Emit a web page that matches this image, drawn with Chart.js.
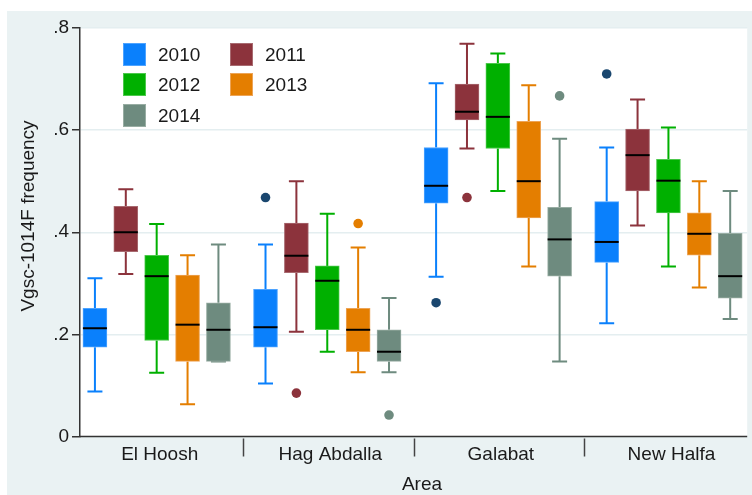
<!DOCTYPE html>
<html><head><meta charset="utf-8">
<script src="https://cdn.jsdelivr.net/npm/chart.js@4.4.1/dist/chart.umd.min.js"></script>
<style>html,body{margin:0;padding:0;background:#fff}canvas{display:block}</style>
</head><body>
<canvas id="c" width="752" height="495"></canvas>
<script>
// ---- data ----
const areas = ['El Hoosh', 'Hag Abdalla', 'Galabat', 'New Halfa'];
const years = ['2010', '2011', '2012', '2013', '2014'];
// per area: [lower whisker, q1, median, q3, upper whisker]
const box2010 = [[0.088,0.175,0.212,0.251,0.310],[0.104,0.175,0.214,0.288,0.376],[0.313,0.457,0.491,0.566,0.692],[0.222,0.341,0.381,0.460,0.566]];
const box2011 = [[0.318,0.362,0.400,0.451,0.484],[0.205,0.321,0.354,0.418,0.500],[0.564,0.620,0.636,0.690,0.769],[0.413,0.481,0.551,0.602,0.660]];
const box2012 = [[0.125,0.188,0.314,0.355,0.416],[0.166,0.209,0.305,0.334,0.436],[0.481,0.564,0.626,0.731,0.750],[0.333,0.438,0.501,0.543,0.605]];
const box2013 = [[0.063,0.147,0.219,0.316,0.355],[0.126,0.166,0.209,0.251,0.370],[0.333,0.428,0.500,0.617,0.688],[0.292,0.355,0.397,0.438,0.500]];
const box2014 = [[0.147,0.147,0.209,0.262,0.376],[0.126,0.147,0.166,0.209,0.271],[0.147,0.314,0.386,0.449,0.583],[0.230,0.271,0.314,0.398,0.481]];
// outside values per area
const out2010 = [[], [0.468], [0.262], [0.710]];
const out2011 = [[], [0.085], [0.468], []];
const out2012 = [[], [], [], []];
const out2013 = [[], [0.417], [], []];
const out2014 = [[], [0.042], [0.667], []];
const yTicks = [0, 0.2, 0.4, 0.6, 0.8];
const yTickLabels = ['0', '.2', '.4', '.6', '.8'];

// ---- styles ----
const boxColors = ['#0a80fc', '#8c333c', '#00b000', '#e47e00', '#6e8b7f'];
const edgeColors = ['#4da3ff', '#a86a70', '#4cc84c', '#eda456', '#98ada3'];
const outColors = ['#1a476f', '#8c333c', '#00b000', '#e47e00', '#6e8b7f'];
const FONT = "'Liberation Sans', Arial, sans-serif";
const SPACING = 0.181;

const boxes = [box2010, box2011, box2012, box2013, box2014];
const outs = [out2010, out2011, out2012, out2013, out2014];
const posOf = (i, j) => i + (j - 2) * SPACING;

const datasets = [];
boxes.forEach((b, j) => {
  datasets.push({
    type: 'bar', label: years[j],
    data: b.map((s, i) => ({ x: posOf(i, j), y: [s[1], s[3]] })),
    backgroundColor: boxColors[j], borderColor: edgeColors[j], borderWidth: 1,
    borderSkipped: false, barThickness: 24, grouped: false, order: 2
  });
});
outs.forEach((o, j) => {
  const pts = [];
  o.forEach((arr, i) => arr.forEach(v => pts.push({ x: posOf(i, j), y: v })));
  datasets.push({
    type: 'scatter', label: 'out' + years[j], data: pts,
    pointRadius: 4.8, pointHoverRadius: 4.8, pointBackgroundColor: outColors[j],
    pointBorderWidth: 0, order: 1
  });
});

const boxPlugin = {
  id: 'boxPlugin',
  beforeDraw(chart) {
    const { ctx, chartArea: a } = chart;
    ctx.save();
    ctx.fillStyle = '#ffffff';
    ctx.fillRect(0, 0, chart.width, chart.height);
    ctx.fillStyle = '#eaf2f3';
    ctx.fillRect(7, 11, chart.width - 7, chart.height - 11);
    ctx.fillStyle = '#ffffff';
    ctx.fillRect(a.left, a.top, a.right - a.left, a.bottom - a.top);
    ctx.restore();
  },
  beforeDatasetsDraw(chart) {
    const { ctx, scales: { x, y } } = chart;
    ctx.save();
    ctx.lineWidth = 2;
    boxes.forEach((b, j) => {
      ctx.strokeStyle = boxColors[j];
      b.forEach((s, i) => {
        const xp = x.getPixelForValue(posOf(i, j));
        ctx.beginPath();
        ctx.moveTo(xp, y.getPixelForValue(s[0]));
        ctx.lineTo(xp, y.getPixelForValue(s[1]));
        ctx.moveTo(xp, y.getPixelForValue(s[3]));
        ctx.lineTo(xp, y.getPixelForValue(s[4]));
        ctx.moveTo(xp - 7.5, y.getPixelForValue(s[0]));
        ctx.lineTo(xp + 7.5, y.getPixelForValue(s[0]));
        ctx.moveTo(xp - 7.5, y.getPixelForValue(s[4]));
        ctx.lineTo(xp + 7.5, y.getPixelForValue(s[4]));
        ctx.stroke();
      });
    });
    ctx.restore();
  },
  afterDatasetsDraw(chart) {
    const { ctx, scales: { x, y } } = chart;
    ctx.save();
    ctx.lineWidth = 2;
    ctx.strokeStyle = '#000000';
    boxes.forEach((b, j) => {
      b.forEach((s, i) => {
        const xp = x.getPixelForValue(posOf(i, j));
        const yp = y.getPixelForValue(s[2]);
        ctx.beginPath();
        ctx.moveTo(xp - 12, yp);
        ctx.lineTo(xp + 12, yp);
        ctx.stroke();
      });
    });
    ctx.restore();
  },
  afterDraw(chart) {
    const { ctx, chartArea: a, scales: { x } } = chart;
    ctx.save();
    // x baseline
    ctx.strokeStyle = '#333333';
    ctx.lineWidth = 1.5;
    ctx.beginPath();
    ctx.moveTo(a.left, a.bottom);
    ctx.lineTo(a.right, a.bottom);
    ctx.stroke();
    // group separators
    ctx.strokeStyle = '#444444';
    for (let i = 0; i < areas.length - 1; i++) {
      const xp = Math.round(x.getPixelForValue(i + 0.5)) + 1.5;
      ctx.beginPath();
      ctx.moveTo(xp, a.bottom + 2);
      ctx.lineTo(xp, a.bottom + 20);
      ctx.stroke();
    }
    ctx.fillStyle = '#1a1a1a';
    ctx.font = '19px ' + FONT;
    ctx.textAlign = 'center';
    ctx.textBaseline = 'alphabetic';
    areas.forEach((name, i) => {
      ctx.fillText(name, x.getPixelForValue(i) + 3, 460);
    });
    ctx.fillText('Area', 422, 490);
    // y title
    ctx.save();
    ctx.translate(34, 216);
    ctx.rotate(-Math.PI / 2);
    ctx.fillText('Vgsc-1014F frequency', 0, 0);
    ctx.restore();
    // legend
    const cols = [123, 230];
    const rows = [43, 73, 104];
    ctx.textAlign = 'left';
    ctx.textBaseline = 'middle';
    years.forEach((yr, j) => {
      const cx = cols[j % 2], cy = rows[Math.floor(j / 2)];
      ctx.fillStyle = boxColors[j];
      ctx.fillRect(cx, cy, 23, 23);
      ctx.strokeStyle = edgeColors[j];
      ctx.lineWidth = 1;
      ctx.strokeRect(cx + 0.5, cy + 0.5, 22, 22);
      ctx.fillStyle = '#1a1a1a';
      ctx.fillText(yr, cx + 35, cy + 12.5);
    });
    ctx.restore();
  }
};

new Chart(document.getElementById('c'), {
  type: 'bar',
  data: { datasets },
  options: {
    responsive: false,
    animation: false,
    devicePixelRatio: 1,
    layout: { padding: { left: 0, top: 28, right: 2, bottom: 58.5 } },
    plugins: { legend: { display: false }, tooltip: { enabled: false } },
    scales: {
      x: {
        type: 'linear', display: false, offset: false,
        min: -0.4495, max: 3.4617
      },
      y: {
        type: 'linear', min: 0, max: 0.8,
        afterFit(s) { s.width = 80; },
        afterBuildTicks(s) { s.ticks = yTicks.map(v => ({ value: v })); },
        ticks: {
          callback: (v, i) => yTickLabels[i],
          font: { size: 19, family: FONT }, color: '#1a1a1a', padding: 3
        },
        grid: { color: '#e4eef0', lineWidth: 1.5, tickColor: '#333333', tickLength: 8, drawTicks: true },
        border: { color: '#333333', width: 1.5 }
      }
    }
  },
  plugins: [boxPlugin]
});
</script>
</body></html>
